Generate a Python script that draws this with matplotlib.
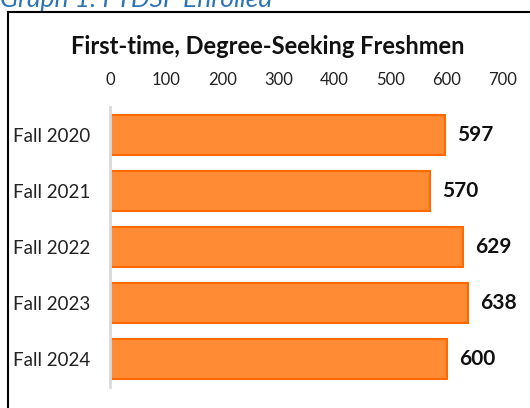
import matplotlib
matplotlib.use('Agg')
import matplotlib.pyplot as plt
from matplotlib.lines import Line2D

# данные
categories = ['Fall 2020', 'Fall 2021', 'Fall 2022', 'Fall 2023', 'Fall 2024']
values = [597, 570, 629, 638, 600]
xticks = [0, 100, 200, 300, 400, 500, 600, 700]

plt.rcParams['font.family'] = ['Lato', 'DejaVu Sans']

W, H = 530, 408
fig = plt.figure(figsize=(W/100, H/100), dpi=100)

# оси: 0..700 -> 110..503 px, категории 107..387 px
ax = fig.add_axes([110/W, 1-387/H, (503-110)/W, (387-107)/H])
y = list(range(len(categories)))
ax.barh(y, values, height=0.73, color='#FF8B34', edgecolor='#FF6A00', linewidth=1.5)
ax.set_xlim(0, 700)
ax.set_ylim(4.5, -0.5)
ax.xaxis.tick_top()
ax.set_xticks(xticks)
ax.set_xticklabels([str(t) for t in xticks], fontsize=12, color='#222222')
ax.set_yticks(y)
ax.set_yticklabels(categories, fontsize=13.5, color='#222222')
ax.tick_params(axis='x', length=0, pad=14)
ax.tick_params(axis='y', length=0, pad=14)
for s in ['top', 'right', 'bottom']:
    ax.spines[s].set_visible(False)
ax.spines['left'].set_color('#D9D9D9')
ax.spines['left'].set_linewidth(2)

# подписи значений
for yi, v in zip(y, values):
    ax.text(v + 21, yi, str(v), va='center', ha='left', fontsize=15, fontweight='bold', color='#111111')

# заголовок
fig.text(268/W, 1-46/H, 'First-time, Degree-Seeking Freshmen', ha='center', va='center',
         fontsize=17, fontweight='bold', color='#111111')

# рамка (видны только верх и лево)
fig.add_artist(Line2D([8/W, 1.0], [1-12/H, 1-12/H], color='black', linewidth=1.5, transform=fig.transFigure))
fig.add_artist(Line2D([8/W, 8/W], [0, 1-12/H], color='black', linewidth=1.5, transform=fig.transFigure))

# подпись графика (обрезана сверху)
fig.text(0.0, 1-7/H, 'Graph 1: FTDSF Enrolled', ha='left', va='baseline', fontsize=19,
         style='italic', color='#2E74B5')

fig.savefig('out.png', dpi=100)
